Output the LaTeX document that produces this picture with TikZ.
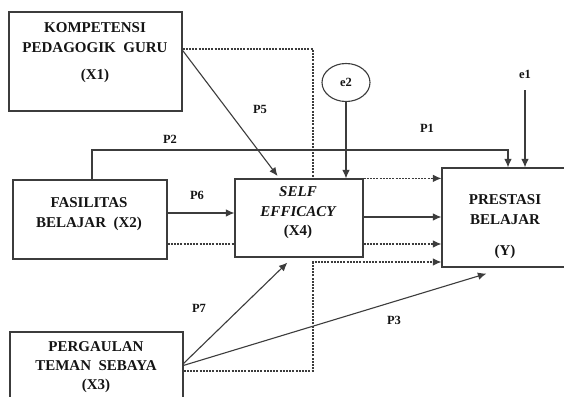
\documentclass[tikz,border=0pt]{standalone}
\usepackage{fontspec}
\setmainfont{Liberation Serif}[BoldFont={Liberation Serif Bold},ItalicFont={Liberation Serif Italic},BoldItalicFont={Liberation Serif Bold Italic}]
\usetikzlibrary{arrows.meta,calc,shapes.geometric}
\definecolor{ln}{RGB}{60,60,60}
\definecolor{tx}{RGB}{20,20,20}
\begin{document}
\begin{tikzpicture}[x=1pt,y=-1pt,
  box/.style={draw=ln,line width=1.2pt,rectangle,inner sep=0pt},
  txt/.style={font=\fontsize{15}{16}\selectfont\bfseries,text=tx,align=center,inner sep=0pt},
  itxt/.style={font=\fontsize{15}{16}\selectfont\bfseries\itshape,text=tx,align=center,inner sep=0pt},
  lab/.style={font=\fontsize{12.5}{13}\selectfont\bfseries,text=tx,inner sep=0pt},
  arr/.style={draw=ln,line width=1.1pt,-{Latex[length=8.5pt,width=7.5pt]}},
  darr/.style={draw=ln,line width=1.1pt,dash pattern=on 2pt off 1.2pt,-{Latex[length=8.5pt,width=7.5pt]}},
  dln/.style={draw=ln,line width=1.1pt,dash pattern=on 2pt off 1.2pt}]
\useasboundingbox (0,0) rectangle (564,396);
\clip (0,0) rectangle (564,396);
\fill[white] (0,0) rectangle (564,396);
% boxes
\node[box,minimum width=173pt,minimum height=99pt] (x1) at (95.5,61.5) {};
\node[box,minimum width=154pt,minimum height=79pt] (x2) at (90,219.5) {};
\node[box,minimum width=128pt,minimum height=78pt] (x4) at (299,218) {};
\node[box,minimum width=133pt,minimum height=99pt] (y) at (508.5,217.5) {};
\node[box,minimum width=173pt,minimum height=80pt] (x3) at (96.5,372) {};
\node[draw=ln,line width=1.1pt,ellipse,minimum width=48pt,minimum height=38pt,inner sep=0pt,lab] (e2) at (346,82.5) {e2};
% texts
\node[txt] (t1a) at (95,28) {KOMPETENSI};
\node[txt] (t1b) at (95,48) {PEDAGOGIK\ \ GURU};
\node[txt] (t1c) at (95,76) {(X1)};
\node[txt] (t2a) at (89,203) {FASILITAS};
\node[txt] (t2b) at (89,224) {BELAJAR\ \ (X2)};
\node[itxt] (t4a) at (298,192) {SELF};
\node[itxt] (t4b) at (298,212) {EFFICACY};
\node[txt] (t4c) at (298,232) {(X4)};
\node[txt] (tya) at (505,200) {PRESTASI};
\node[txt] (tyb) at (505,220) {BELAJAR};
\node[txt] (tyc) at (505,252) {(Y)};
\node[txt] (t3a) at (96,347) {PERGAULAN};
\node[txt] (t3b) at (96,366) {TEMAN\ \ SEBAYA};
\node[txt] (t3c) at (96,386) {(X3)};
% labels
\node[lab] (p1) at (427,128) {P1};
\node[lab] (p2) at (170,139) {P2};
\node[lab] (p3) at (394,320) {P3};
\node[lab] (p5) at (260,109) {P5};
\node[lab] (p6) at (197,195) {P6};
\node[lab] (p7) at (199,308) {P7};
\node[lab] (e1) at (525,74) {e1};
% coordinates
\coordinate (p2a) at (92,150);
\coordinate (p2b) at (508,150);
\coordinate (e1s) at (525,90);
\coordinate (d1) at (313,49);
\coordinate (d3) at (313,371);
\coordinate (d3b) at (313,262);
\coordinate (l6) at (0,213);
\coordinate (l4) at (0,217);
\coordinate (l2) at (0,244);
% connectors
\draw[arr] (x2.north -| p2a) -- (p2a) -- (p2b) -- (p2b |- y.north);
\draw[arr] (e1s) -- (e1s |- y.north);
\draw[arr] (e2.south) -- (e2.south |- x4.north);
\draw[darr] (x1.east |- d1) -- (d1) -- (d1 |- x4.north) -- (y.west |- x4.north);
\draw[arr,shorten >=3pt] ($(x1.north east)+(0,39)$) -- ($(x4.north west)+(45,0)$);
\draw[arr] (x2.east |- l6) -- (x4.west |- l6);
\draw[dln] (x2.east |- l2) -- (x4.west |- l2);
\draw[darr] (x4.east |- l2) -- (y.west |- l2);
\draw[arr] (x4.east |- l4) -- (y.west |- l4);
\draw[darr] (x3.east |- d3) -- (d3) -- (d3b) -- (y.west |- d3b);
\draw[arr] ($(x3.north east)+(0,32)$) -- ($(x4.south west)+(53,5)$);
\draw[arr] ($(x3.north east)+(0,34)$) -- ($(y.south west)+(45,6)$);
\end{tikzpicture}
\end{document}
